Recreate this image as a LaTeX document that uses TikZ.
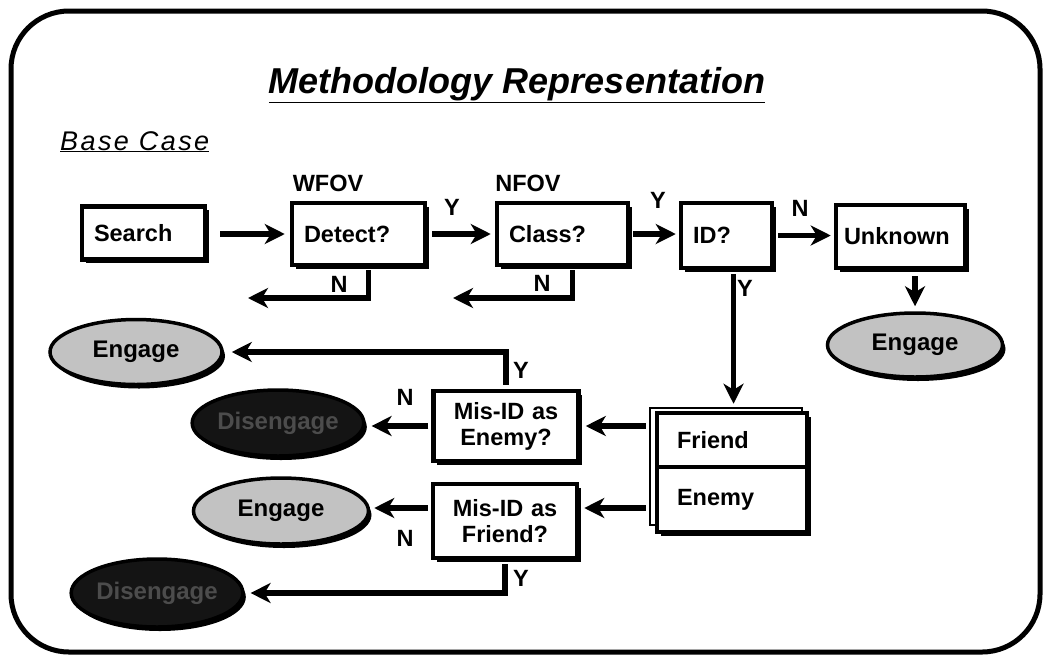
\documentclass[tikz,border=0pt]{standalone}
\usepackage{fontspec}
\setmainfont{Liberation Sans}
\newfontfamily\spacedfont[LetterSpace=9]{Liberation Sans}
\usetikzlibrary{arrows.meta,positioning,shapes.geometric,shadows}
\definecolor{engagefill}{HTML}{C2C2C2}
\definecolor{darkfill}{HTML}{141414}
\definecolor{darktext}{HTML}{4C4C4C}
\tikzset{
  stepbox/.style={draw, line width=4.5pt, fill=white, align=left, inner xsep=12pt,
    font=\fontsize{23.5}{26}\selectfont\bfseries,
    drop shadow={shadow xshift=3.5pt, shadow yshift=-3.5pt, fill=black, opacity=1}},
  qbox/.style={stepbox, align=center, inner xsep=4pt},
  endnode/.style={ellipse, draw, line width=3.5pt, inner sep=0pt,
    font=\fontsize{24}{26}\selectfont\bfseries,
    drop shadow={shadow xshift=3pt, shadow yshift=-4pt, fill=black, opacity=1}},
  engagenode/.style={endnode, fill=engagefill},
  darknode/.style={endnode, fill=darkfill, text=darktext},
  lab/.style={font=\fontsize{23.5}{25}\selectfont\bfseries, inner sep=0pt},
  arr/.style={-{Stealth[length=20pt, width=20pt, inset=6pt]}, line width=5.5pt}
}

\begin{document}
\begin{tikzpicture}[x=1pt,y=-1pt]
  \useasboundingbox (0,0) rectangle (1048,659);
  \draw[line width=5pt, rounded corners=58pt] (11,11) rectangle (1040,652);

  \node[anchor=base, font=\fontsize{36}{40}\selectfont\bfseries\itshape] (title) at (517,93)
    {\underline{Methodology Representation}};
  \node[anchor=base west, inner sep=0pt, font=\fontsize{27}{30}\selectfont\spacedfont\itshape] (basecase) at (60,150)
    {\underline{Base Case}};

  % first row
  \node[stepbox, text width=99pt, minimum height=53pt] (search) at (143.5,233) {Search};
  \node[stepbox, text width=109pt, minimum height=62pt] (detect) at (358.5,234) {Detect?};
  \node[stepbox, text width=107pt, minimum height=62pt] (class) at (562.5,234) {Class?};
  \node[stepbox, text width=67pt, minimum height=65pt] (id) at (726.5,235.5) {ID?};
  \node[stepbox, text width=113pt, inner xsep=8pt, minimum height=63pt] (unknown) at (900.5,236.5) {Unknown};
  \node[lab] (wfov) at (328,183) {WFOV};
  \node[lab] (nfov) at (528,183) {NFOV};

  % friend / enemy stack
  \node[draw, line width=2.5pt, minimum width=152pt, minimum height=117pt] (stackback) at (726,466.5) {};
  \node[stepbox, text width=110pt, inner xsep=20pt, minimum height=54pt] (friend) at (732,440) {Friend};
  \node[stepbox, text width=110pt, inner xsep=20pt, minimum height=65pt] (enemy) at (732,499.5) {Enemy};

  \node[qbox, text width=137pt, minimum height=70pt] (misenemy) at (506,426) {Mis-ID as\\Enemy?};
  \node[qbox, text width=136pt, minimum height=74pt] (misfriend) at (505,521) {Mis-ID as\\Friend?};

  % end states
  \node[engagenode, minimum width=172pt, minimum height=65pt] (engA) at (136,352) {Engage};
  \node[darknode, minimum width=168pt, minimum height=66pt] (darkA) at (278,423) {Disengage};
  \node[engagenode, minimum width=175pt, minimum height=66pt] (engB) at (281,511) {Engage};
  \node[darknode, minimum width=170pt, minimum height=68pt] (darkB) at (157,593) {Disengage};
  \node[engagenode, minimum width=175pt, minimum height=64pt] (engC) at (915,345) {Engage};

  \coordinate (dn) at (248,298);
  \coordinate (cn) at (453,298);

  % connectors
  \draw[arr, shorten <=13pt, shorten >=5pt] (search.east |- detect.west) -- (detect.west);
  \draw[arr, shorten <=5pt, shorten >=4pt] (detect.east) -- (class.west);
  \draw[arr, shorten <=3pt, shorten >=3pt] (class.east) -- (class.east -| id.west);
  \draw[arr, shorten <=4pt, shorten >=3pt] (id.east) -- (id.east -| unknown.west);
  \draw[arr, shorten <=4pt, shorten >=3pt] ([xshift=7pt]id.south) -- ([xshift=7pt]id.south |- stackback.north);
  \draw[arr, shorten <=6pt, shorten >=5pt] (unknown.south -| engC.north) -- (engC.north);
  \draw[arr, shorten <=3pt] ([xshift=10pt]detect.south) |- (dn);
  \draw[arr, shorten <=3pt] ([xshift=10pt]class.south) |- (cn);
  \draw[arr, shorten <=4pt, shorten >=8pt] (misenemy.north) |- (engA.east);
  \draw[arr, shorten <=3pt, shorten >=6pt] (misenemy.west) -- (misenemy.west -| darkA.east);
  \draw[arr, shorten <=3pt, shorten >=5pt] (misenemy.east -| stackback.west) -- (misenemy.east);
  \draw[arr, shorten <=3pt, shorten >=5pt] ([yshift=13pt]misfriend.east -| stackback.west) -- ([yshift=13pt]misfriend.east);
  \draw[arr, shorten <=3pt, shorten >=4pt] ([yshift=13pt]misfriend.west) -- ([yshift=13pt]misfriend.west -| engB.east);
  \draw[arr, shorten <=4pt, shorten >=6pt] (misfriend.south) |- (darkB.east);

  % Y / N labels
  \node[lab] (y1) at (452,207) {Y};
  \node[lab] (y2) at (658,200) {Y};
  \node[lab] (n1) at (800,208) {N};
  \node[lab] (n2) at (339,284) {N};
  \node[lab] (n3) at (542,283) {N};
  \node[lab] (y3) at (745,288) {Y};
  \node[lab] (y4) at (521,370) {Y};
  \node[lab] (n4) at (405,397) {N};
  \node[lab] (n5) at (405,538) {N};
  \node[lab] (y5) at (521,578) {Y};
\end{tikzpicture}
\end{document}
